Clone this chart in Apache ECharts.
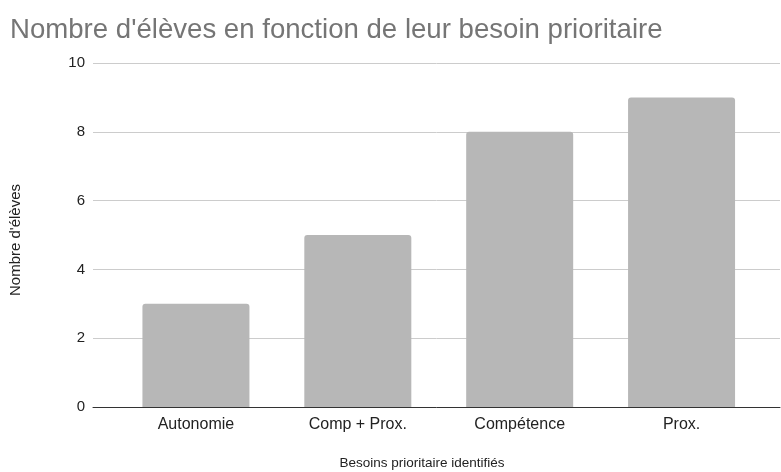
<!DOCTYPE html>
<html lang="fr">

<head>
    <meta charset="UTF-8">
    <title>Nombre d'élèves en fonction de leur besoin prioritaire</title>
    <script src="https://cdn.jsdelivr.net/npm/echarts@6/dist/echarts.min.js"></script>
    <style>
        html, body { margin: 0; padding: 0; background: #fff; }
        #chart { width: 781px; height: 472px; }
    </style>
</head>

<body>
    <div id="chart"></div>

    <script>
        // données
        var categories = ['Autonomie', 'Comp + Prox.', 'Compétence', 'Prox.'];
        var nbEleves = [3, 5, 8, 9];
        var yTicks = [0, 2, 4, 6, 8, 10];

        var font = '"Liberation Sans", Arial, sans-serif';
        var chart = echarts.init(document.getElementById('chart'));

        var option = {
            animation: false,
            backgroundColor: '#ffffff',
            title: [{
                text: "Nombre d'élèves en fonction de leur besoin prioritaire",
                left: 5,
                top: 11,
                textStyle: { color: '#757575', fontSize: 27.6, fontWeight: 'normal', fontFamily: font }
            }, {
                text: 'Besoins prioritaire identifiés',
                left: 417,
                top: 451,
                textAlign: 'center',
                textStyle: { color: '#222', fontSize: 13.5, fontWeight: 'normal', fontFamily: font }
            }],
            grid: [
                // grille de fond : lignes horizontales et axe des y
                { left: 88, right: 1, top: 63, bottom: 65 },
                // grille des barres
                { left: 115, right: 18.5, top: 63, bottom: 65 }
            ],
            xAxis: [{
                gridIndex: 0,
                type: 'value',
                min: 0,
                max: 1,
                axisLine: { show: true, lineStyle: { color: '#333', width: 1 } },
                axisTick: { show: false },
                axisLabel: { show: false },
                splitLine: { show: false }
            }, {
                gridIndex: 1,
                type: 'category',
                data: categories,
                axisLine: { show: false },
                axisTick: { show: false },
                axisLabel: { color: '#222', fontSize: 16, fontFamily: font, margin: 10 }
            }],
            yAxis: [{
                gridIndex: 0,
                type: 'value',
                min: yTicks[0],
                max: yTicks[yTicks.length - 1],
                interval: yTicks[1] - yTicks[0],
                name: "Nombre d'élèves",
                nameLocation: 'middle',
                nameGap: 70,
                nameRotate: 90,
                nameTextStyle: { color: '#222', fontSize: 15, fontFamily: font, padding: [0, 10, 0, 0] },
                axisLine: { show: false },
                axisTick: { show: false },
                axisLabel: { color: '#222', fontSize: 15, fontFamily: font, margin: 8 },
                splitLine: { show: true, lineStyle: { color: '#cccccc', width: 1 } }
            }, {
                gridIndex: 1,
                type: 'value',
                min: yTicks[0],
                max: yTicks[yTicks.length - 1],
                show: false,
                splitLine: { show: false }
            }],
            series: [{
                type: 'bar',
                xAxisIndex: 1,
                yAxisIndex: 1,
                data: nbEleves,
                barWidth: 107,
                itemStyle: { color: '#b7b7b7', borderRadius: [3, 3, 0, 0] }
            }]
        };

        chart.setOption(option);
    </script>
</body>

</html>
